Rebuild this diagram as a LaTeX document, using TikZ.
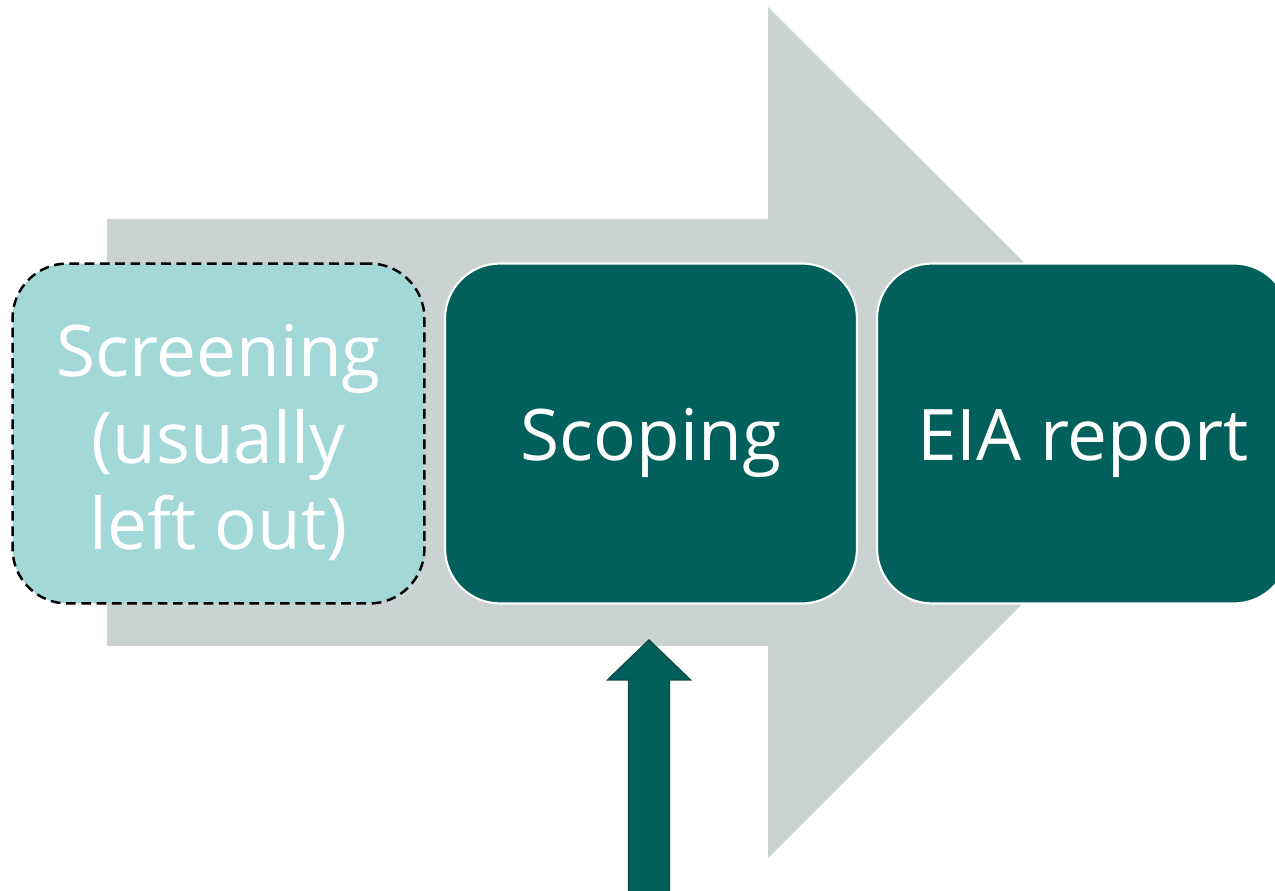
\documentclass[tikz,border=0pt]{standalone}
\usepackage{fontspec}
\setmainfont{Open Sans}
\definecolor{flowgray}{HTML}{CAD3D2}
\definecolor{lightteal}{HTML}{A2D9D8}
\definecolor{darkteal}{HTML}{02605C}
\definecolor{edgeteal}{HTML}{0D4A46}
% strut that sets the first line's height so the text sits a little low in each box
\newcommand{\capstrut}{\rule{0pt}{40pt}}
\begin{document}
\begin{tikzpicture}[x=0.02cm,y=-0.02cm,
  stagebox/.style={rounded corners=1.1cm, minimum width=8.24cm, minimum height=6.8cm,
    align=center, text=white, font=\fontsize{40.5}{49}\selectfont, inner sep=0pt},
  optional/.style={stagebox, fill=lightteal, draw=black, line width=1.4pt, dash pattern=on 5.5pt off 3.2pt},
  mainstage/.style={stagebox, fill=darkteal, draw=white, line width=1.2pt}]
\useasboundingbox (0,0) rectangle (1275,891);
\clip (0,0) rectangle (1275,891);
% broad process arrow in the background
\fill[flowgray] (107,219) -- (768,219) -- (768,7) -- (1194,432) -- (768,858)
  -- (768,646) -- (107,646) -- cycle;
% the three stages
\node[optional]  (screen) at (218.5,433.5) {\capstrut Screening\\(usually\\left out)};
\node[mainstage] (scope)  at (651,433.5) {\capstrut Scoping};
\node[mainstage] (eia)    at (1083,433.5) {\capstrut EIA report};
% input arrow pointing up into scoping
\coordinate (tip) at (649,640);
\filldraw[fill=darkteal, draw=edgeteal, line width=0.8pt, line join=miter]
  (tip) -- ++(41.5,40) -- ++(-21,0) -- ++(0,230) -- ++(-41,0) -- ++(0,-230)
  -- ++(-21,0) -- cycle;
\end{tikzpicture}
\end{document}
